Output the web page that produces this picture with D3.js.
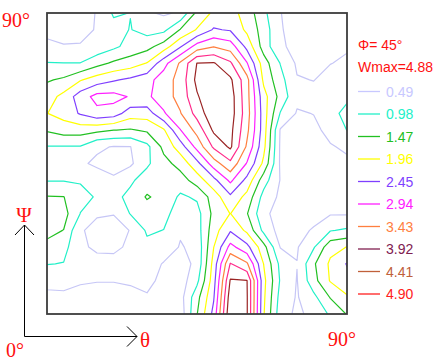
<!DOCTYPE html>
<html>
<head>
<meta charset="utf-8">
<script src="https://cdn.jsdelivr.net/npm/d3@7"></script>
<style>
  body { margin: 0; background: #fff; }
  svg { display: block; }
</style>
</head>
<body>
<div id="vis"></div>
<script>
const svgWidth = 444,
  svgHeight = 362,
  x0 = 47,
  x1 = 347,
  y0 = 314,
  y1 = 13;

// grid of the section, 5 degree steps
const thetaDeg = [0, 5, 10, 15, 20, 25, 30, 35, 40, 45, 50, 55, 60, 65, 70, 75, 80, 85, 90];
const psiDeg = [90, 85, 80, 75, 70, 65, 60, 55, 50, 45, 40, 35, 30, 25, 20, 15, 10, 5, 0];

// f(g) values, one row per psi (top row = psi 90), one column per theta
const odf = [
  [0.35, 0.38, 0.42, 0.5, 1.05, 0.97, 0.55, 0.42, 0.55, 1.6, 2.05, 2.15, 1.75, 1.1, 0.5, 0.35, 0.3, 0.3, 0.3],
  [0.42, 0.43, 0.45, 0.5, 0.8, 1.0, 0.8, 0.85, 1.5, 2.0, 2.5, 2.4, 1.85, 1.25, 0.52, 0.35, 0.32, 0.3, 0.3],
  [0.55, 0.5, 0.5, 0.65, 0.88, 1.15, 1.3, 1.7, 2.4, 3.15, 3.4, 3.2, 2.3, 1.25, 0.55, 0.38, 0.38, 0.38, 0.45],
  [1.0, 0.99, 0.99, 1.3, 1.55, 1.7, 1.98, 2.75, 3.5, 4.42, 4.45, 4.0, 2.97, 1.7, 0.96, 0.42, 0.4, 0.48, 0.55],
  [1.42, 1.55, 1.92, 2.2, 2.4, 2.55, 2.75, 3.2, 3.6, 4.55, 4.75, 4.5, 3.6, 1.85, 1.15, 0.52, 0.48, 0.62, 0.7],
  [1.75, 2.1, 2.7, 3.1, 3.1, 2.9, 2.85, 3.2, 3.6, 4.35, 4.88, 4.65, 3.6, 2.15, 1.3, 0.6, 0.62, 0.8, 0.9],
  [1.95, 2.15, 2.5, 2.8, 2.7, 2.2, 2.2, 2.88, 3.4, 4.1, 4.8, 4.65, 3.65, 2.2, 0.95, 0.45, 0.5, 0.85, 1.1],
  [1.52, 1.7, 1.7, 1.6, 1.48, 1.42, 1.55, 1.9, 2.92, 3.6, 4.5, 4.55, 3.55, 2.2, 0.45, 0.4, 0.4, 0.6, 0.99],
  [0.96, 0.95, 0.95, 0.55, 0.47, 0.48, 0.85, 1.6, 2.2, 3.1, 4.0, 4.5, 3.35, 2.1, 0.42, 0.35, 0.35, 0.46, 0.55],
  [0.75, 0.7, 0.55, 0.42, 0.35, 0.4, 0.9, 1.3, 1.65, 2.3, 3.2, 3.8, 2.9, 1.85, 0.42, 0.33, 0.35, 0.35, 0.42],
  [0.95, 0.95, 0.93, 0.7, 0.55, 0.9, 1.2, 1.25, 1.25, 1.7, 2.3, 3.05, 2.3, 1.2, 0.47, 0.33, 0.35, 0.33, 0.35],
  [1.5, 1.48, 1.15, 0.93, 0.85, 1.1, 1.52, 1.3, 0.9, 1.05, 1.7, 2.35, 1.8, 0.8, 0.4, 0.33, 0.35, 0.35, 0.38],
  [1.7, 1.65, 0.97, 0.52, 0.5, 1.0, 1.2, 1.15, 0.7, 0.8, 1.6, 1.97, 1.5, 0.6, 0.3, 0.35, 0.38, 0.45, 0.45],
  [1.6, 1.46, 0.52, 0.4, 0.38, 0.5, 1.05, 0.97, 0.55, 0.75, 1.75, 2.4, 1.85, 0.85, 0.3, 0.4, 0.52, 0.95, 1.05],
  [1.35, 1.15, 0.55, 0.43, 0.42, 0.55, 0.85, 0.8, 0.45, 0.62, 1.95, 3.1, 2.6, 1.65, 0.47, 0.45, 0.93, 1.8, 1.97],
  [1.0, 0.96, 0.7, 0.6, 0.6, 0.65, 0.75, 0.45, 0.3, 0.6, 2.15, 3.95, 3.5, 1.95, 0.85, 0.5, 1.4, 2.05, 2.48],
  [0.6, 0.6, 0.52, 0.5, 0.5, 0.52, 0.6, 0.38, 0.25, 0.85, 2.25, 4.45, 4.42, 2.1, 0.93, 0.47, 1.3, 2.0, 2.3],
  [0.4, 0.42, 0.4, 0.4, 0.4, 0.42, 0.45, 0.33, 0.3, 1.3, 2.4, 4.7, 4.45, 2.05, 0.8, 0.45, 0.85, 1.5, 1.9],
  [0.3, 0.3, 0.3, 0.3, 0.3, 0.32, 0.35, 0.28, 0.2, 1.45, 2.6, 4.85, 4.45, 2.0, 0.7, 0.4, 0.62, 1.05, 1.5]
];

const levels = [0.49, 0.98, 1.47, 1.96, 2.45, 2.94, 3.43, 3.92, 4.41, 4.9];
const levelLabels = ["0.49", "0.98", "1.47", "1.96", "2.45", "2.94", "3.43", "3.92", "4.41", "4.90"];
const phiLabel = "\u03A6= 45\u00B0";
const wmaxLabel = "Wmax=4.88";

const lineColors = ["#c6c6f6", "#22f0c8", "#22c022", "#ffff00", "#7f3fff", "#ff20ff", "#ff7f3f", "#ff2a8a", "#9a2424", "#ff0000"];
const keyColors = ["#c8c8ff", "#22f0c8", "#22c022", "#ffff00", "#7f3fff", "#ff20ff", "#ff7f3f", "#802050", "#c0603a", "#ff2020"];

const svg = d3
  .select("#vis")
  .append("svg")
  .attr("width", svgWidth)
  .attr("height", svgHeight);

const x = d3.scaleLinear().domain([0, 90]).range([x0, x1]);
const y = d3.scaleLinear().domain([0, 90]).range([y0, y1]);

const nx = thetaDeg.length,
  ny = psiDeg.length,
  step = thetaDeg[1] - thetaDeg[0];

svg
  .append("clipPath")
  .attr("id", "plotclip")
  .append("rect")
  .attr("x", x0)
  .attr("y", y1)
  .attr("width", x1 - x0)
  .attr("height", y0 - y1);

// contour coordinates -> degrees -> pixels
const proj = d3.geoTransform({
  point: function (gx, gy) {
    const t = thetaDeg[0] + (gx - 0.5) * step;
    const p = psiDeg[0] - (gy - 0.5) * step;
    this.stream.point(x(t), y(p));
  },
});
const path = d3.geoPath(proj);

const contours = d3.contours().size([nx, ny]).thresholds(levels)(odf.flat());

svg
  .append("g")
  .attr("clip-path", "url(#plotclip)")
  .selectAll("path")
  .data(contours)
  .enter()
  .append("path")
  .attr("d", path)
  .attr("fill", "none")
  .attr("stroke", (d, i) => lineColors[i])
  .attr("stroke-width", 1.2)
  .attr("stroke-linejoin", "round");

// frame
svg
  .append("rect")
  .attr("x", x0)
  .attr("y", y1)
  .attr("width", x1 - x0)
  .attr("height", y0 - y1)
  .attr("fill", "none")
  .attr("stroke", "#3c3c3c")
  .attr("stroke-width", 1.8);

// corner labels and axis arrows
const red = "#ff1010";
const serif = "'Liberation Serif', 'DejaVu Serif', serif";

svg.append("text").attr("x", 2).attr("y", 27).text("90\u00B0")
  .attr("fill", red).attr("font-family", serif).attr("font-size", 20);
svg.append("text").attr("x", 328).attr("y", 346).text("90\u00B0")
  .attr("fill", red).attr("font-family", serif).attr("font-size", 20);
svg.append("text").attr("x", 6).attr("y", 357).text("0\u00B0")
  .attr("fill", red).attr("font-family", serif).attr("font-size", 20);
svg.append("text").attr("x", 24).attr("y", 222).attr("text-anchor", "middle").text("\u03A8")
  .attr("fill", red).attr("font-family", serif).attr("font-size", 21);
svg.append("text").attr("x", 140).attr("y", 347).text("\u03B8")
  .attr("fill", red).attr("font-family", serif).attr("font-size", 21);

const ax = 24.5, ay = 336.5;
const arrows = d3.path();
arrows.moveTo(ax, ay);
arrows.lineTo(ax, 225);
arrows.moveTo(15, 235);
arrows.lineTo(ax, 225);
arrows.lineTo(34, 235);
arrows.moveTo(ax, ay);
arrows.lineTo(137, ay);
arrows.moveTo(127, 326.5);
arrows.lineTo(137, ay);
arrows.lineTo(127, 346.5);
svg.append("path").attr("d", arrows.toString())
  .attr("fill", "none").attr("stroke", "#000").attr("stroke-width", 1);

// key
const sans = "'Liberation Sans', Arial, sans-serif";
svg.append("text").attr("x", 358).attr("y", 50).text(phiLabel)
  .attr("fill", red).attr("font-family", sans).attr("font-size", 14);
svg.append("text").attr("x", 358).attr("y", 72).text(wmaxLabel)
  .attr("fill", red).attr("font-family", sans).attr("font-size", 14);

const key = svg
  .append("g")
  .selectAll("g")
  .data(levelLabels)
  .enter()
  .append("g")
  .attr("transform", (d, i) => `translate(0, ${91 + i * 22.5})`);

key.append("line")
  .attr("x1", 358).attr("x2", 380).attr("y1", 0.5).attr("y2", 0.5)
  .attr("stroke", (d, i) => keyColors[i]).attr("stroke-width", 1.3);
key.append("text")
  .attr("x", 386).attr("y", 5.5)
  .text((d) => d)
  .attr("fill", (d, i) => keyColors[i])
  .attr("font-family", sans).attr("font-size", 14);
</script>
</body>
</html>
